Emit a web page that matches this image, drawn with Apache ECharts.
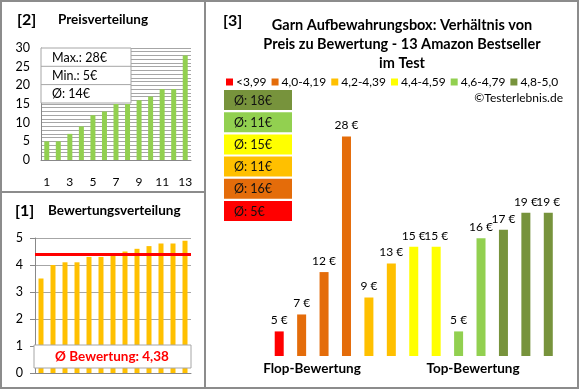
<!DOCTYPE html>
<html><head><meta charset="utf-8">
<script src="https://cdn.jsdelivr.net/npm/echarts@6/dist/echarts.min.js"></script>
<style>html,body{margin:0;padding:0;background:#fff}#c{width:580px;height:390px}</style>
</head><body><div id="c"></div>
<script>
const priceCats = ['1','2','3','4','5','6','7','8','9','10','11','12','13'];
const priceValues = [5,5,7,9,12,13,15,15,16,17,19,19,28];
const priceStats = ['Max.: 28€','Min.: 5€','Ø: 14€'];
const ratingValues = [3.5,4.0,4.1,4.1,4.3,4.3,4.4,4.5,4.6,4.7,4.8,4.8,4.9];
const avgRating = 4.38;
const avgRatingLabel = 'Ø Bewertung: 4,38';
const productCats = ['P1','P2','P3','P4','P5','P6','P7','P8','P9','P10','P11','P12','P13'];
const productPrices = [5,7,12,28,9,13,15,15,5,16,17,19,19];
const productGroup = [0,1,1,1,2,2,3,3,4,4,5,5,5];
const groupNames = ['<3,99','4,0-4,19','4,2-4,39','4,4-4,59','4,6-4,79','4,8-5,0'];
const groupColors = ['#FF0000','#E46C0A','#FFC000','#FFFF00','#92D050','#77933C'];
const groupAvgLabels = ['Ø: 5€','Ø: 16€','Ø: 11€','Ø: 15€','Ø: 11€','Ø: 18€'];
const titleText = 'Garn Aufbewahrungsbox: Verhältnis von\nPreis zu Bewertung - 13 Amazon Bestseller\nim Test';

const F = 'Lato, "Open Sans", sans-serif';
const chart = echarts.init(document.getElementById('c'), null, {renderer:'canvas'});

const productSeries = groupNames.map((name, g) => ({
  name: name, type: 'bar', xAxisIndex: 2, yAxisIndex: 2,
  barWidth: 9, barGap: '-100%',
  itemStyle: {color: groupColors[g]},
  label: {show: true, position: 'top', distance: 5, fontFamily: F, fontSize: 12, color: '#000',
          formatter: p => p.value + ' €'},
  data: productPrices.map((v, i) => productGroup[i] === g ? v : '-')
}));

const graphics = [];
graphics.push({type:'rect', shape:{x:1,y:1,width:577,height:387}, style:{fill:'none', stroke:'#8c8c8c', lineWidth:2}, z:100});
graphics.push({type:'line', shape:{x1:205,y1:1,x2:205,y2:388}, style:{stroke:'#8c8c8c', lineWidth:2}, z:100});
graphics.push({type:'line', shape:{x1:1,y1:192,x2:205,y2:192}, style:{stroke:'#8c8c8c', lineWidth:2}, z:100});
graphics.push({type:'text', x:17, y:20, style:{text:'[2]', font:'bold 16px '+F, fill:'#000', verticalAlign:'middle'}});
graphics.push({type:'text', x:58, y:20, style:{text:'Preisverteilung', font:'bold 13.5px '+F, fill:'#000', verticalAlign:'middle'}});
graphics.push({type:'text', x:15, y:211, style:{text:'[1]', font:'bold 16px '+F, fill:'#000', verticalAlign:'middle'}});
graphics.push({type:'text', x:48, y:211, style:{text:'Bewertungsverteilung', font:'bold 13.5px '+F, fill:'#000', verticalAlign:'middle'}});
graphics.push({type:'text', x:223, y:21, style:{text:'[3]', font:'bold 16px '+F, fill:'#000', verticalAlign:'middle'}});
graphics.push({type:'text', x:402, y:16, style:{text:titleText, font:'bold 14.5px '+F, fill:'#000', align:'center', lineHeight:19}});
graphics.push({type:'text', x:563, y:98, style:{text:'©Testerlebnis.de', font:'12px '+F, fill:'#000', align:'right', verticalAlign:'middle'}});
graphics.push({type:'rect', shape:{x:41,y:48,width:90,height:55}, style:{fill:'#fff', stroke:'#a6a6a6', lineWidth:1}, z:50});
priceStats.forEach((t, i) => {
  if (i > 0) graphics.push({type:'line', shape:{x1:41,y1:48+i*18.3,x2:131,y2:48+i*18.3}, style:{stroke:'#a6a6a6', lineWidth:1}, z:51});
  graphics.push({type:'text', x:52, y:48+i*18.3+9.5, style:{text:t, font:'12.5px '+F, fill:'#000', verticalAlign:'middle'}, z:52});
});
graphics.push({type:'rect', shape:{x:34,y:345,width:157,height:23}, style:{fill:'#fff', stroke:'#a6a6a6', lineWidth:1}, z:50});
graphics.push({type:'text', x:112, y:357, style:{text:avgRatingLabel, font:'bold 13.5px '+F, fill:'#FF0000', align:'center', verticalAlign:'middle'}, z:52});
groupAvgLabels.forEach((t, g) => {
  const y = 201 - g*22.2;
  graphics.push({type:'rect', shape:{x:224,y:y,width:68,height:20}, style:{fill:groupColors[g]}});
  graphics.push({type:'text', x:234, y:y+10.5, style:{text:t, font:'12.5px '+F, fill:'#111', verticalAlign:'middle'}});
});
graphics.push({type:'text', x:312, y:369, style:{text:'Flop-Bewertung', font:'bold 13.5px '+F, fill:'#000', align:'center', verticalAlign:'middle'}});
graphics.push({type:'text', x:473, y:369, style:{text:'Top-Bewertung', font:'bold 13.5px '+F, fill:'#000', align:'center', verticalAlign:'middle'}});

const option = {
  animation: false,
  textStyle: {fontFamily: F},
  legend: {left: 221, top: 71, itemWidth: 7, itemHeight: 7, itemGap: 5, icon: 'rect',
           textStyle: {fontFamily: F, fontSize: 12, color: '#000', padding:[0,0,0,-2]},
           data: groupNames, selectedMode: false},
  grid: [
    {left: 41, top: 48, width: 150, height: 112},
    {left: 35, top: 238, width: 156, height: 135},
    {left: 268, top: 119.5, width: 291.5, height: 236.5}
  ],
  xAxis: [
    {gridIndex: 0, type: 'category', data: priceCats,
     axisLine: {lineStyle: {color: '#888'}}, axisTick: {show: false},
     axisLabel: {interval: 1, margin: 16, fontFamily: F, fontSize: 12, color: '#000'}},
    {gridIndex: 1, type: 'category', data: priceCats,
     axisLine: {lineStyle: {color: '#888'}}, axisTick: {show: false}, axisLabel: {show: false}},
    {gridIndex: 2, type: 'category', data: productCats, show: false}
  ],
  yAxis: [
    {gridIndex: 0, type: 'value', min: 0, max: 30, interval: 5,
     axisLine: {show: true, lineStyle: {color: '#888'}}, axisTick: {show: false},
     axisLabel: {margin: 11, fontFamily: F, fontSize: 12.5, color: '#000'},
     splitLine: {lineStyle: {color: '#a6a6a6'}},
     minorTick: {show: false, splitNumber: 5},
     minorSplitLine: {show: true, lineStyle: {color: '#a6a6a6'}}},
    {gridIndex: 1, type: 'value', min: 0, max: 5, interval: 1,
     axisLine: {show: true, lineStyle: {color: '#888'}},
     axisTick: {show: true, length: 5, lineStyle: {color: '#888'}},
     axisLabel: {margin: 12, fontFamily: F, fontSize: 12.5, color: '#000'},
     splitLine: {lineStyle: {color: '#a6a6a6'}}},
    {gridIndex: 2, type: 'value', min: 2.1, max: 30, show: false, splitLine: {show: false}}
  ],
  series: [
    {type: 'bar', xAxisIndex: 0, yAxisIndex: 0, barWidth: 5, itemStyle: {color: '#92D050'}, data: priceValues, z: 3},
    {type: 'bar', xAxisIndex: 1, yAxisIndex: 1, barWidth: 5, itemStyle: {color: '#FFC000'}, data: ratingValues, z: 3,
     markLine: {silent: true, symbol: 'none', label: {show: false},
                lineStyle: {color: '#FF0000', width: 3, type: 'solid'}, data: [{yAxis: avgRating}]}},
    ...productSeries
  ],
  graphic: graphics
};
chart.setOption(option);
</script></body></html>
